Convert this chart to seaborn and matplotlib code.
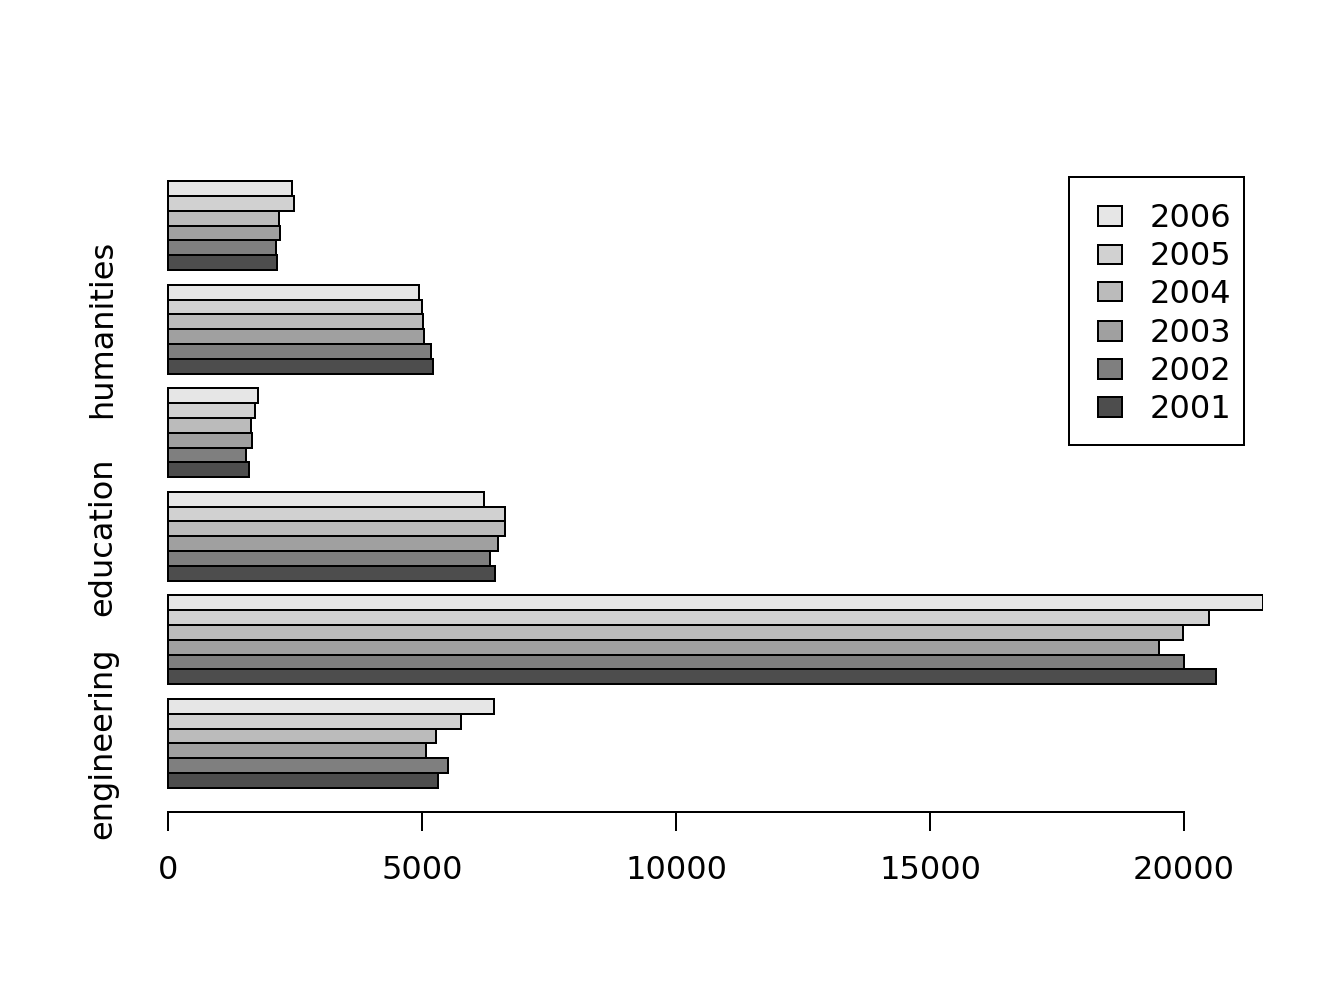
import matplotlib
matplotlib.use("Agg")
import matplotlib.pyplot as plt
import seaborn as sns
import pandas as pd
from matplotlib.patches import Rectangle

# ---- data ----
fields = ["engineering", "science", "education", "health", "humanities", "other"]
tick_labels = ["engineering", "", "education", "", "humanities", ""]  # R drops overlapping names
years = ["2001", "2002", "2003", "2004", "2005", "2006"]
v2001 = [5320, 20630, 6430, 1595, 5215, 2155]
v2002 = [5510, 20005, 6340, 1530, 5178, 2135]
v2003 = [5072, 19515, 6495, 1648, 5040, 2205]
v2004 = [5270, 19988, 6632, 1628, 5013, 2180]
v2005 = [5775, 20490, 6626, 1713, 5006, 2474]
v2006 = [6425, 21555, 6220, 1780, 4941, 2435]
series = [v2001, v2002, v2003, v2004, v2005, v2006]
colors = ["#4D4D4D", "#7F7F7F", "#A0A0A0", "#BBBBBB", "#D1D1D1", "#E6E6E6"]
x_ticks = [0, 5000, 10000, 15000, 20000]

rows = []
for yr, vals in zip(years, series):
    for f, v in zip(fields, vals):
        rows.append({"field": f, "year": yr, "value": v})
df = pd.DataFrame(rows)

sns.set_style("white")
plt.rcParams["font.family"] = ["DejaVu Sans"]
plt.rcParams["text.color"] = "black"
plt.rcParams["xtick.color"] = "black"
plt.rcParams["ytick.color"] = "black"
plt.rcParams["axes.labelcolor"] = "black"

W, H = 1344, 1008
fig = plt.figure(figsize=(7, 5.25), dpi=192)
ax = fig.add_axes([157 / W, (H - 812) / H, 1106 / W, 655 / H])

sns.barplot(data=df, x="value", y="field", hue="year", orient="h",
            order=fields, hue_order=years, palette=colors,
            width=6 / 7, gap=0, dodge=True, errorbar=None,
            edgecolor="black", linewidth=0.75, saturation=1,
            legend=False, ax=ax)

vmax = max(max(s) for s in series)
ax.set_xlim(-0.01 * vmax, vmax)
ax.set_ylim(-4.64 / 7, 39.64 / 7)

for side in ["top", "right", "left"]:
    ax.spines[side].set_visible(False)
ax.spines["bottom"].set_bounds(x_ticks[0], x_ticks[-1])
ax.spines["bottom"].set_linewidth(0.75)
ax.spines["bottom"].set_color("black")

ax.set_xticks(x_ticks)
ax.set_xticklabels([str(t) for t in x_ticks], fontsize=12, color="black")
ax.tick_params(axis="x", direction="out", length=7.2, width=0.75,
               color="black", labelcolor="black", pad=9, bottom=True)
ax.set_yticks(range(len(fields)))
ax.set_yticklabels(tick_labels, fontsize=12, rotation=90, va="center", color="black")
ax.tick_params(axis="y", length=0, pad=14.4, left=False, labelcolor="black")
ax.set_xlabel("")
ax.set_ylabel("")
ax.grid(False)

# ---- legend box (R style) ----
def fx(px):
    return px / W

def fy(py):
    return 1 - py / H

frame = Rectangle((fx(1069), fy(445)), fx(1244) - fx(1069), fy(177) - fy(445),
                  transform=fig.transFigure, facecolor="white",
                  edgecolor="black", linewidth=0.75)
fig.add_artist(frame)
centers = [215, 253, 291, 330, 368, 406]
for yc, yr, col in zip(centers, years[::-1], colors[::-1]):
    sq = Rectangle((fx(1098), fy(yc + 10.5)), fx(24), 19 / H,
                   transform=fig.transFigure, facecolor=col,
                   edgecolor="black", linewidth=0.75)
    fig.add_artist(sq)
    fig.text(fx(1150), fy(yc), yr, fontsize=12, ha="left", color="black",
             va="center_baseline", transform=fig.transFigure)

fig.savefig("out.png", dpi=192, facecolor="white")
